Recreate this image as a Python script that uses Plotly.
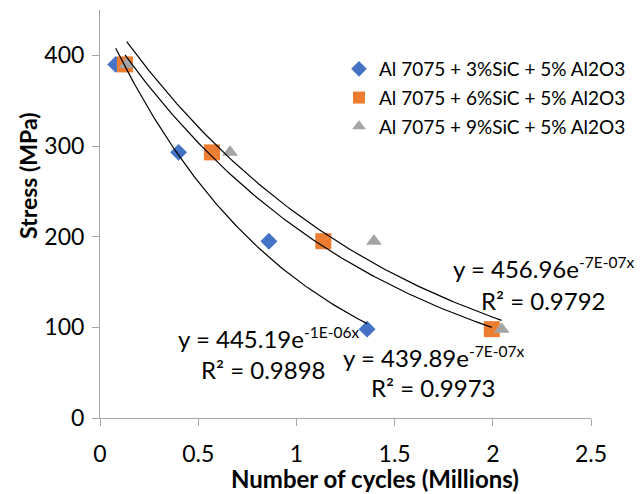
import numpy as np
import plotly.graph_objects as go

# Data (x in millions of cycles, y in MPa)
series_names = ["Al 7075 + 3%SiC + 5% Al2O3",
                "Al 7075 + 6%SiC + 5% Al2O3",
                "Al 7075 + 9%SiC + 5% Al2O3"]
cycles_3sic = [0.08, 0.40, 0.86, 1.36]
stress_3sic = [390, 293, 195, 98]
cycles_6sic = [0.127, 0.57, 1.137, 1.995]
stress_6sic = [390, 293, 195, 98]
cycles_9sic = [0.136, 0.662, 1.395, 2.045]
stress_9sic = [390, 293, 195, 98]

x_ticks = [0, 0.5, 1, 1.5, 2, 2.5]
x_tick_labels = ["0", "0.5", "1", "1.5", "2", "2.5"]
y_ticks = [0, 100, 200, 300, 400]

eq_main = ["y = 445.19e", "y = 439.89e", "y = 456.96e"]
eq_exp = ["-1E-06x", "-7E-07x", "-7E-07x"]
r2_labels = ["R² = 0.9898", "R² = 0.9973", "R² = 0.9792"]

colors = ["#4472C4", "#ED7D31", "#A5A5A5"]
symbols = ["diamond", "square", "triangle-up"]
sizes = [13, 16, 14]
FONT = "Lato"

W, H = 643, 494
ml, mr, mt, mb = 100, 52, 10, 76
pw, ph = W - ml - mr, H - mt - mb


def px_x(p):
    return (p - ml) / pw


def px_y(p):
    return (H - mb - p) / ph


fig = go.Figure()
all_x = [cycles_3sic, cycles_6sic, cycles_9sic]
all_y = [stress_3sic, stress_6sic, stress_9sic]

for i, (xs, ys) in enumerate(zip(all_x, all_y)):
    fig.add_trace(go.Scatter(x=xs, y=ys, mode="markers", name=series_names[i],
                             legendgroup=f"g{i}",
                             marker=dict(symbol=symbols[i], size=sizes[i], color=colors[i],
                                         line=dict(width=0))))

# exponential trendlines (least squares on log y)
for xs, ys in zip(all_x, all_y):
    xs_a = np.array(xs); ys_a = np.array(ys, dtype=float)
    b, lna = np.polyfit(xs_a, np.log(ys_a), 1)
    xf = np.linspace(xs_a.min(), xs_a.max(), 120)
    fig.add_trace(go.Scatter(x=xf, y=np.exp(lna) * np.exp(b * xf), mode="lines",
                             line=dict(color="black", width=1.2),
                             showlegend=False, hoverinfo="skip"))

ann_pos = [((0.86, 88), (0.835, 53)),
           ((1.696, 67), (1.696, 34)),
           ((2.26, 165), (2.26, 130))]
annotations = []
for k, (p1, p2) in enumerate(ann_pos):
    l1 = f'{eq_main[k]}<sup><span style="font-size:15.5px">{eq_exp[k]}</span></sup>'
    annotations.append(dict(x=p1[0], y=p1[1], xref="x", yref="y", text=l1, showarrow=False,
                            font=dict(family=FONT, size=24, color="black"), xanchor="center"))
    annotations.append(dict(x=p2[0], y=p2[1], xref="x", yref="y", text=r2_labels[k],
                            showarrow=False,
                            font=dict(family=FONT, size=24, color="black"), xanchor="center"))
annotations.append(dict(x=px_x(28), y=px_y(176), xref="paper", yref="paper",
                        text="<b>Stress (MPa)</b>", showarrow=False, textangle=-90,
                        xanchor="center", yanchor="middle",
                        font=dict(family=FONT, size=23, color="black")))
annotations.append(dict(x=px_x(375), y=px_y(479), xref="paper", yref="paper",
                        text="<b>Number of cycles (Millions)</b>", showarrow=False,
                        xanchor="center", yanchor="middle",
                        font=dict(family=FONT, size=24, color="black")))

fig.update_layout(
    width=W, height=H,
    margin=dict(l=ml, r=mr, t=mt, b=mb),
    plot_bgcolor="white", paper_bgcolor="white",
    font=dict(family=FONT, size=23, color="black"),
    annotations=annotations,
    legend=dict(x=px_x(339), y=px_y(50), xanchor="left", yanchor="top",
                font=dict(family=FONT, size=19, color="black"),
                tracegroupgap=1, bgcolor="rgba(0,0,0,0)", itemsizing="constant"),
    xaxis=dict(range=[0, 2.5], tickvals=x_ticks, ticktext=x_tick_labels,
               showgrid=False, zeroline=False, showline=True, linecolor="#A6A6A6", linewidth=1,
               ticks="outside", ticklen=7, tickcolor="#A6A6A6", ticklabelstandoff=8,
               automargin=False),
    yaxis=dict(range=[0, 450], tickvals=y_ticks,
               showgrid=False, zeroline=False, showline=True, linecolor="#A6A6A6", linewidth=1,
               ticks="outside", ticklen=7, tickcolor="#A6A6A6", ticklabelstandoff=3,
               automargin=False),
)

fig.write_html("out.html", post_script="document.body.style.margin='0';",
               config={"displayModeBar": False})
